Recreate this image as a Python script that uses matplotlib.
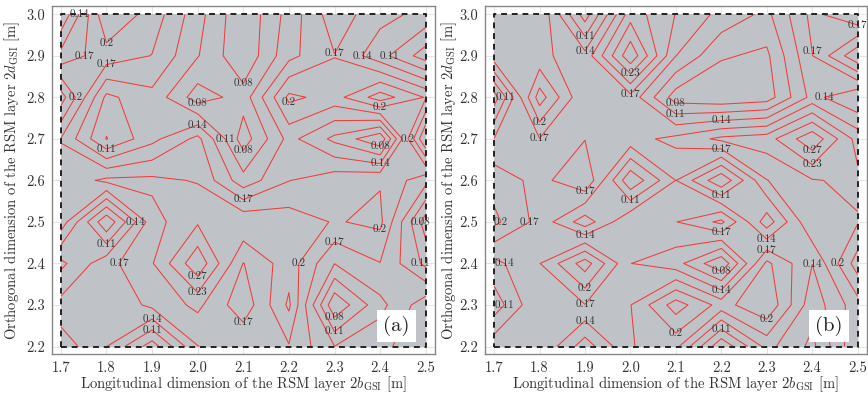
import numpy as np
import matplotlib
matplotlib.use("Agg")
import matplotlib.pyplot as plt

plt.rcParams['font.family'] = ['cmr10', 'DejaVu Serif']
plt.rcParams['mathtext.fontset'] = 'cm'
plt.rcParams['axes.formatter.use_mathtext'] = True

# grid coordinates
x_vals = [1.7, 1.8, 1.9, 2.0, 2.1, 2.2, 2.3, 2.4, 2.5]
y_vals = [3.0, 2.9, 2.8, 2.7, 2.6, 2.5, 2.4, 2.3, 2.2]

# panel (a) values, rows follow y_vals (top to bottom), columns follow x_vals
z_a = [
    [0.08, 0.23, 0.19, 0.12, 0.05, 0.12, 0.19, 0.15, 0.13],
    [0.15, 0.19, 0.17, 0.11, 0.05, 0.13, 0.17, 0.12, 0.06],
    [0.25, 0.10, 0.13, 0.06, 0.09, 0.21, 0.19, 0.25, 0.20],
    [0.17, 0.075, 0.13, 0.18, 0.06, 0.15, 0.10, 0.05, 0.30],
    [0.18, 0.21, 0.21, 0.20, 0.12, 0.17, 0.19, 0.20, 0.15],
    [0.19, 0.05, 0.19, 0.23, 0.23, 0.22, 0.20, 0.21, 0.06],
    [0.10, 0.16, 0.20, 0.29, 0.17, 0.22, 0.14, 0.17, 0.10],
    [0.15, 0.14, 0.18, 0.21, 0.15, 0.24, 0.05, 0.13, 0.19],
    [0.19, 0.14, 0.06, 0.17, 0.20, 0.20, 0.14, 0.16, 0.20],
]

# panel (b) values
z_b = [
    [0.17, 0.20, 0.06, 0.22, 0.17, 0.13, 0.10, 0.18, 0.14],
    [0.19, 0.18, 0.15, 0.29, 0.14, 0.08, 0.07, 0.17, 0.26],
    [0.06, 0.25, 0.14, 0.16, 0.06, 0.05, 0.06, 0.15, 0.11],
    [0.14, 0.17, 0.17, 0.16, 0.18, 0.21, 0.22, 0.29, 0.19],
    [0.19, 0.16, 0.20, 0.05, 0.14, 0.05, 0.17, 0.20, 0.21],
    [0.21, 0.16, 0.09, 0.17, 0.17, 0.21, 0.09, 0.20, 0.20],
    [0.13, 0.17, 0.25, 0.14, 0.12, 0.05, 0.21, 0.14, 0.25],
    [0.09, 0.17, 0.17, 0.17, 0.25, 0.19, 0.23, 0.12, 0.19],
    [0.16, 0.17, 0.09, 0.17, 0.18, 0.05, 0.15, 0.10, 0.20],
]

levels = [0.0765, 0.108, 0.1395, 0.171, 0.2025, 0.234, 0.2655]
panel_tags = ['(a)', '(b)']
x_ticks = [1.7, 1.8, 1.9, 2.0, 2.1, 2.2, 2.3, 2.4, 2.5]
y_ticks = [2.2, 2.3, 2.4, 2.5, 2.6, 2.7, 2.8, 2.9, 3.0]

xlabel = r"Longitudinal dimension of the RSM layer $2b_{\mathrm{GSI}}$ [m]"
ylabel = r"Orthogonal dimension of the RSM layer $2d_{\mathrm{GSI}}$ [m]"

fig = plt.figure(figsize=(8.68, 3.98), dpi=100)
positions = [[0.0596, 0.1106, 0.4414, 0.8744], [0.5588, 0.1106, 0.4397, 0.8744]]
ylabel_x = [-0.078, -0.068]

def fmt(v):
    return f"{v:.2f}".rstrip('0')

renderer = fig.canvas.get_renderer()
for pos, z, tag, ylx in zip(positions, [z_a, z_b], panel_tags, ylabel_x):
    ax = fig.add_axes(pos)
    X, Y = np.meshgrid(x_vals, y_vals)
    Z = np.array(z)
    ax.set_facecolor('white')
    ax.grid(True, color='#e6e6e6', lw=0.8, zorder=0)
    ax.set_axisbelow(True)
    ax.contourf(X, Y, Z, levels=[Z.min() - 1, Z.max() + 1], colors=['#bfc3c7'], zorder=1)
    cs = ax.contour(X, Y, Z, levels=levels, colors=['#f23c3c'], linewidths=0.75, zorder=2)
    ax.set_xlim(1.68, 2.52)
    ax.set_ylim(2.182, 3.02)
    tag_txt = ax.text(0.90, 0.08, tag, transform=ax.transAxes, fontsize=15, ha='center',
                      va='center', color='#222222', zorder=5,
                      bbox=dict(boxstyle='square,pad=0.3', fc='white', ec='none'))
    texts = ax.clabel(cs, levels, fmt=fmt, fontsize=8, colors='#333333', inline=False)
    kept = [tag_txt.get_window_extent(renderer).expanded(1.6, 1.6)]
    for t in texts:
        t.set_rotation(0)
        t.set_zorder(4)
        bb = t.get_window_extent(renderer).expanded(1.05, 1.1)
        if any(bb.overlaps(k) for k in kept):
            t.remove()
        else:
            kept.append(bb)
    ax.plot([x_vals[0], x_vals[-1], x_vals[-1], x_vals[0], x_vals[0]],
            [y_vals[-1], y_vals[-1], y_vals[0], y_vals[0], y_vals[-1]],
            color='#222222', lw=1.4, ls=(0, (3, 2.5)), zorder=3)
    ax.set_xticks(x_ticks)
    ax.set_yticks(y_ticks)
    ax.set_xticklabels([f"{t:.1f}" for t in x_ticks])
    ax.set_yticklabels([f"{t:.1f}" for t in y_ticks])
    ax.tick_params(length=0, labelsize=10.5, colors='#333333', pad=5)
    for sp in ax.spines.values():
        sp.set_color('#888888')
        sp.set_linewidth(1.0)
    ax.set_xlabel(xlabel, fontsize=10.5, color='#333333')
    ax.xaxis.set_label_coords(0.5, -0.058)
    ax.set_ylabel(ylabel, fontsize=10.5, color='#333333')
    ax.yaxis.set_label_coords(ylx, 0.5)

fig.savefig('out.png', dpi=100)
